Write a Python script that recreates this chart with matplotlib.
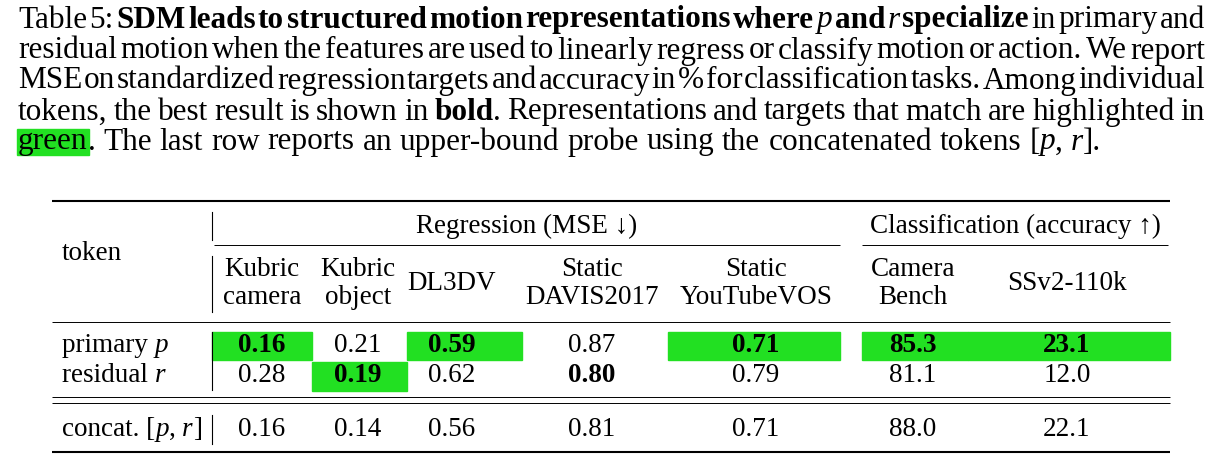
import matplotlib
matplotlib.use("Agg")
import matplotlib.pyplot as plt
from matplotlib.patches import Rectangle

FONT = "Liberation Serif"
GREEN = "#22e022"

# ---- data ----
col_line1 = ["Kubric", "Kubric", "DL3DV", "Static", "Static", "Camera", "SSv2-110k"]
col_line2 = ["camera", "object", "", "DAVIS2017", "YouTubeVOS", "Bench", ""]
primary_vals = ["0.16", "0.21", "0.59", "0.87", "0.71", "85.3", "23.1"]
residual_vals = ["0.28", "0.19", "0.62", "0.80", "0.79", "81.1", "12.0"]
concat_vals = ["0.16", "0.14", "0.56", "0.81", "0.71", "88.0", "22.1"]
primary_bold = [True, False, True, False, True, True, True]
residual_bold = [False, True, False, True, False, False, False]
primary_green = [True, False, True, False, True, True, True]
residual_green = [False, True, False, False, False, False, False]

fig = plt.figure(figsize=(12.19, 4.71), dpi=100)
ax = fig.add_axes([0, 0, 1, 1])
ax.set_xlim(0, 1219); ax.set_ylim(471, 0); ax.axis("off")
fig.canvas.draw()
R = fig.canvas.get_renderer()

def sty(s):
    return dict(weight="bold" if s == "b" else "normal",
                style="italic" if s == "i" else "normal")

def width(txt, s, size):
    t = ax.text(0, 0, txt, fontsize=size, family=FONT, **sty(s))
    w = t.get_window_extent(R).width
    t.remove()
    return w

def draw_word(x, y, word, size):
    for txt, s in word:
        w = width(txt, s, size)
        if s == "g":
            ax.add_patch(Rectangle((x - 1, y - 13), w + 2, 26, color=GREEN, zorder=0))
        ax.text(x, y, txt, fontsize=size, family=FONT, va="center", ha="left", **sty(s))
        x += w
    return x

def draw_line(y, words, size, x0=18, x1=1205, justify=True):
    ws = [sum(width(t, s, size) for t, s in w) for w in words]
    sp = width("a b", "n", size) - width("ab", "n", size)
    if justify:
        sp = (x1 - x0 - sum(ws)) / (len(words) - 1)
    x = x0
    for w, wd in zip(words, ws):
        draw_word(x, y, w, size)
        x += wd + sp

def plain(s):
    return [[(w, "n")] for w in s.split()]

def bold(s):
    return [[(w, "b")] for w in s.split()]

CS = 22.5
draw_line(20, plain("Table 5:") + bold("SDM leads to structured motion representations where")
          + [[("p", "i")], [("and", "b")], [("r", "i")], [("specialize", "b")]]
          + plain("in primary and"), CS)
draw_line(51, plain("residual motion when the features are used to linearly regress or classify motion or action. We report"), CS)
draw_line(81, plain("MSE on standardized regression targets and accuracy in % for classification tasks. Among individual"), CS)
draw_line(112, plain("tokens, the best result is shown in") + [[("bold", "b"), (".", "n")]]
          + plain("Representations and targets that match are highlighted in"), CS)
draw_line(142, [[("green", "g"), (".", "n")]] + plain("The last row reports an upper-bound probe using the concatenated tokens")
          + [[("[", "n"), ("p", "i"), (",", "n")], [("r", "i"), ("].", "n")]], CS, justify=False)

# ---- table ----
TS = 19.5
L, Rr = 52, 1170
def hline(y, x0=L, x1=Rr, lw=1.1):
    ax.plot([x0, x1], [y, y], color="black", lw=lw, solid_capstyle="butt")
def vbar(y0, y1):
    ax.plot([212, 212], [y0, y1], color="black", lw=0.8)

hline(201, lw=1.5)
hline(322, lw=0.7)
hline(397, lw=0.7); hline(403, lw=0.7)
hline(452, lw=1.5)
hline(245, 214, 840, lw=0.7)
hline(245, 862, 1168, lw=0.7)
vbar(212, 240); vbar(256, 312); vbar(332, 390); vbar(415, 444)

def tx(x, y, s, w="normal", st="normal", ha="center"):
    ax.text(x, y, s, fontsize=TS, family=FONT, weight=w, style=st, ha=ha, va="center")

tx(527, 226, "Regression (MSE ↓)")
tx(1015, 226, "Classification (accuracy ↑)")
tx(62, 253, "token", ha="left")

centers = [262, 358, 452, 592, 756, 913, 1067]
bounds = [(212, 312), (312, 407), (407, 522), (522, 668), (668, 840), (862, 968), (968, 1170)]
for i, c in enumerate(centers):
    if col_line2[i]:
        tx(c, 270, col_line1[i]); tx(c, 298, col_line2[i])
    else:
        tx(c, 284, col_line1[i])

for i, (a, b) in enumerate(bounds):
    if primary_green[i]:
        ax.add_patch(Rectangle((a, 332), b - a, 28, color=GREEN, zorder=0))
    if residual_green[i]:
        ax.add_patch(Rectangle((a, 362), b - a, 29, color=GREEN, zorder=0))

def label(y, parts):
    x = 62
    for txt, s in parts:
        t = ax.text(x, y, txt, fontsize=TS, family=FONT, va="center", ha="left", **sty(s))
        x += t.get_window_extent(R).width

label(346, [("primary ", "n"), ("p", "i")])
label(375, [("residual ", "n"), ("r", "i")])
label(429, [("concat. [", "n"), ("p", "i"), (", ", "n"), ("r", "i"), ("]", "n")])

for i, c in enumerate(centers):
    tx(c, 346, primary_vals[i], w="bold" if primary_bold[i] else "normal")
    tx(c, 375, residual_vals[i], w="bold" if residual_bold[i] else "normal")
    tx(c, 429, concat_vals[i])

fig.savefig("out.png", dpi=100)
